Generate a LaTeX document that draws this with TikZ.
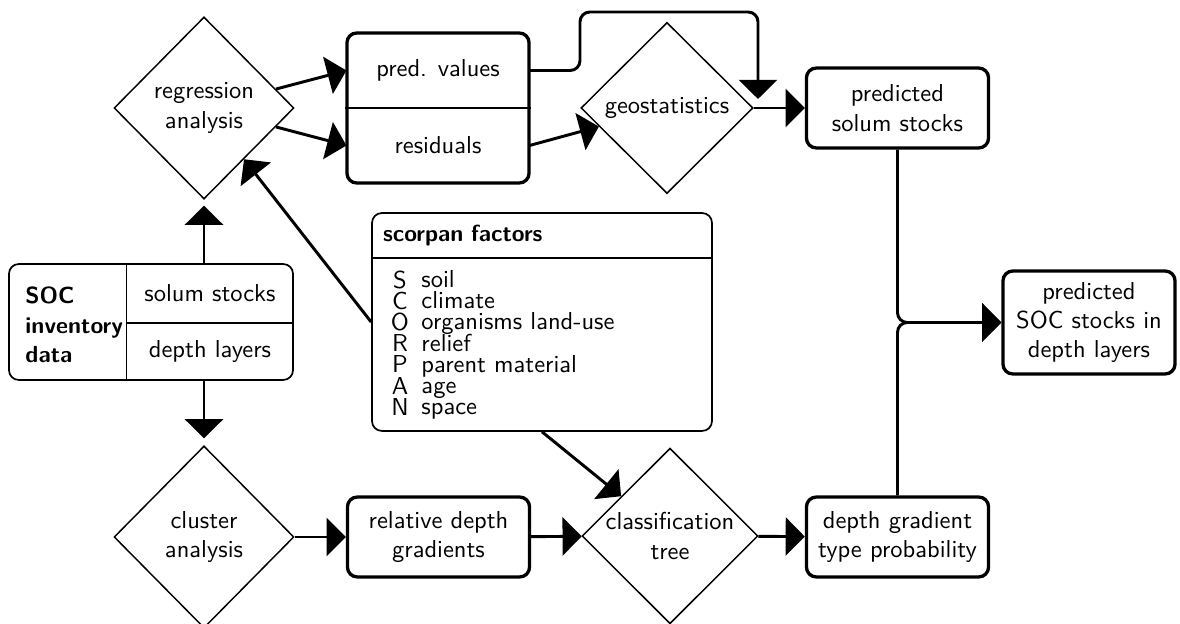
\documentclass[tikz,border=0pt]{standalone}
\usetikzlibrary{shapes.geometric,arrows.meta}
\begin{document}
\begin{tikzpicture}[x=0.408pt, y=-0.408pt, font=\sffamily,
    dia/.style={draw, diamond, line width=0.6pt, inner sep=0pt, align=center,
                minimum width=73.4pt, minimum height=74.3pt},
    box/.style={draw, rounded corners=4pt, line width=1.35pt, align=center,
                minimum width=74.3pt, minimum height=32.6pt, inner sep=2pt},
    thinbox/.style={draw, rounded corners=4pt, line width=0.7pt},
    cell/.style={minimum width=67.7pt, minimum height=23.5pt, inner sep=0pt},
    heavy/.style={font=\sffamily\bfseries\fontsize{9.5}{12}\selectfont},
    arr/.style={line width=1.2pt, -{Triangle[length=7.8pt,width=15.5pt]}}]

    \useasboundingbox (0,0) rectangle (1180,624);

    % upper row
    \node[dia] (regr) at (204,108) {regression\\analysis};
    \node[box, minimum height=61.2pt] (pvbox) at (438,108) {};
    \node[minimum width=74.3pt, minimum height=30.6pt] (pv) at (438,70.5) {pred. values};
    \node[minimum width=74.3pt, minimum height=30.6pt] (res) at (438,145.5) {residuals};
    \draw[line width=1pt] (pvbox.west) -- (pvbox.east);
    \node[dia, minimum width=70.2pt, minimum height=69.8pt] (geo) at (667,108) {geostatistics};
    \node[box] (solum) at (897.5,108) {predicted\\solum stocks};

    % inventory data
    \node[thinbox, minimum width=115.9pt, minimum height=47.3pt] (soc) at (151,322) {};
    \node[heavy, align=left, anchor=west, inner sep=0pt] (socl) at (25,325) {SOC\\inventory\\data};
    \node[cell] (ss) at (210,293.5) {solum stocks};
    \node[cell] (dl) at (210,351.5) {depth layers};
    \draw[line width=0.7pt] (ss.north west) -- (dl.south west);
    \draw[line width=0.7pt] (ss.south west) -- (ss.south east);

    % scorpan
    \node[thinbox, minimum width=138.7pt, minimum height=88.9pt] (scorpan) at (542,322) {};
    \node[heavy, anchor=north, minimum height=18.4pt, inner xsep=4.5pt, inner ysep=0pt,
          text width=129.7pt] (sctitle) at (scorpan.north) {scorpan factors};
    \draw[line width=1pt] (sctitle.south west) -- (sctitle.south east);
    \node[inner sep=0pt, align=center, anchor=north] (scletters) at (400,270)
        {S\\[-3.35pt]C\\[-3.35pt]O\\[-3.35pt]R\\[-3.35pt]P\\[-3.35pt]A\\[-3.35pt]N};
    \node[inner sep=0pt, align=left, anchor=north west] (scwords) at (421,270)
        {soil\\[-3.35pt]climate\\[-3.35pt]organisms land-use\\[-3.35pt]relief\\[-3.35pt]parent material\\[-3.35pt]age\\[-3.35pt]space};

    \node[box, minimum width=70.2pt, minimum height=42pt] (socd) at (1089,322.5) {predicted\\SOC stocks in\\depth layers};

    % lower row
    \node[dia] (clus) at (204,537) {cluster\\analysis};
    \node[box] (rdg) at (438.5,537) {relative depth\\gradients};
    \node[dia, minimum width=71.8pt, minimum height=71pt] (class) at (670,536) {classification\\tree};
    \node[box] (dgtp) at (897.5,537) {depth gradient\\type probability};

    % connectors
    \coordinate (bend) at (580,12);
    \coordinate (drop) at (758,99);
    \draw[arr] (regr) -- (pv.west);
    \draw[arr] (regr) -- (res.west);
    \draw[arr] (res.east) -- (geo);
    \draw[arr] (geo) -- (solum);
    \draw[arr, rounded corners=4pt] (pv.east) -| (bend) -| (drop);
    \draw[arr, shorten >=2.4pt] (soc.north -| regr) -- (regr);
    \draw[arr, shorten >=2.8pt] (soc.south -| clus) -- (clus);
    \draw[arr] (scorpan.west) -- (regr);
    \draw[arr] (scorpan.south) -- (class);
    \draw[arr] (clus) -- (rdg);
    \draw[arr] (rdg) -- (class);
    \draw[arr] (class) -- (dgtp);
    \draw[arr, rounded corners=4pt] (solum) |- (socd);
    \draw[arr, rounded corners=4pt] (dgtp) |- (socd);
\end{tikzpicture}
\end{document}
